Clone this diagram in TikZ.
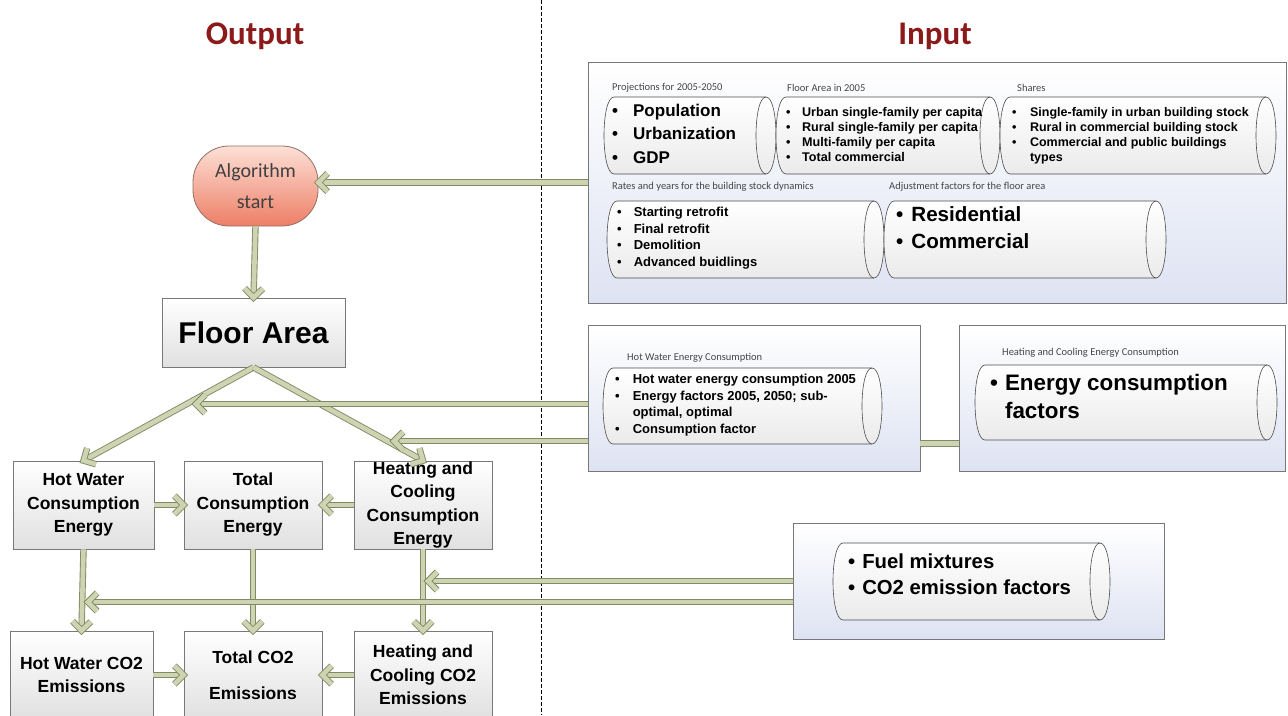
\documentclass[tikz,border=0pt]{standalone}
\usepackage{fontspec}
\setmainfont{Liberation Sans}
\newfontfamily\calfont{Carlito}
\usetikzlibrary{calc}
\definecolor{conndark}{RGB}{128,138,100}
\definecolor{connlight}{RGB}{206,212,178}
\definecolor{titlered}{RGB}{140,26,26}
\definecolor{panelbot}{RGB}{222,227,243}
\definecolor{boxline}{RGB}{120,120,120}
\definecolor{labgray}{RGB}{70,70,70}
\definecolor{salmontop}{RGB}{252,224,214}
\definecolor{salmonbot}{RGB}{238,126,102}
\definecolor{salmonline}{RGB}{150,110,100}
\newcommand{\fs}[2]{\fontsize{#1}{#2}\selectfont}
\newcommand{\drawcyl}[5]{%
  \draw[cylstyle] ({#1+#5},#2) -- ({#3-#5},#2) .. controls ({#3+#5/3},#2) and ({#3+#5/3},#4) .. ({#3-#5},#4) -- ({#1+#5},#4) .. controls ({#1-#5/3},#4) and ({#1-#5/3},#2) .. ({#1+#5},#2) -- cycle;
  \draw[cylline] ({#3-#5},#2) .. controls ({#3-7*#5/3},#2) and ({#3-7*#5/3},#4) .. ({#3-#5},#4);
}
\newcommand{\conar}[2]{%
  \draw[conn, shorten >=3pt] (#1) -- (#2);
  \draw[conn, line join=miter] ($(#2)!13pt!45:(#1)$) -- (#2) -- ($(#2)!13pt!-45:(#1)$);
}
\tikzset{
  conn/.style={draw=conndark, line width=0.9pt, double=connlight, double distance=4.6pt},
  panel/.style={draw=boxline, line width=0.8pt, top color=white, bottom color=panelbot, inner sep=0pt},
  cylstyle/.style={draw=black!70, line width=0.6pt, top color=white, bottom color=black!8},
  cylline/.style={draw=black!70, line width=0.6pt},
  box/.style={draw=boxline, line width=0.8pt, top color=white, bottom color=black!12, inner sep=0pt, align=center, font=\fs{17.5}{23.5}\bfseries},
  title/.style={text=titlered, font=\calfont\bfseries\fs{33}{36}},
  lab/.style={anchor=west, inner sep=0pt, text=labgray, font=\calfont\fs{10.5}{12}},
  lst/.style={anchor=base west, inner sep=0pt}
}
\begin{document}
\begin{tikzpicture}[x=1pt,y=-1pt]
\useasboundingbox (0,0) rectangle (1288,715);
\clip (0,0) rectangle (1288,715);
\fill[white] (0,0) rectangle (1288,715);

% titles
\node[title] (outt) at (255,36) {Output};
\node[title] (intt) at (935,36) {Input};

% divider
\draw[black, line width=0.7pt, dash pattern=on 4pt off 2pt] (541,0) -- (541,715);

% input panels
\node[panel, minimum width=698pt, minimum height=241pt] (p1) at (937,182.5) {};
\node[panel, minimum width=332pt, minimum height=146pt] (p2) at (754,398) {};
\node[panel, minimum width=326pt, minimum height=146pt] (p3) at (1122,398) {};
\node[panel, minimum width=371pt, minimum height=116pt] (p4) at (978.5,581) {};

% cylinders
\drawcyl{604}{97}{776}{174}{10}
\drawcyl{776}{97}{1000}{174}{10}
\drawcyl{1000}{97}{1276}{174}{10}
\drawcyl{607}{201}{884}{278}{10}
\drawcyl{884}{201}{1166}{278}{10}
\drawcyl{603}{368}{882}{444}{10}
\drawcyl{975}{365}{1277}{440}{10}
\drawcyl{833}{543}{1110}{620}{10}

% labels
\node[lab] (l1) at (612,88) {Projections for 2005-2050};
\node[lab] (l2) at (787,88) {Floor Area in 2005};
\node[lab] (l3) at (1017,88) {Shares};
\node[lab] (l4) at (612,187) {Rates and years for the building stock dynamics};
\node[lab] (l5) at (889,187) {Adjustment factors for the floor area};
\node[lab] (l6) at (627,358) {Hot Water Energy Consumption};
\node[lab] (l7) at (1002,353) {Heating and Cooling Energy Consumption};

% lists
\node[lst] (t1) at (612,116) {\fs{17}{23.5}\bfseries\begin{tabular}[t]{@{}l@{\hspace{15pt}}l@{}}\textbullet&Population\\\textbullet&Urbanization\\\textbullet&GDP\end{tabular}};
\node[lst] (t2) at (786,116.5) {\fs{12.6}{15}\bfseries\begin{tabular}[t]{@{}l@{\hspace{11.5pt}}l@{}}\textbullet&Urban single-family per capita\\\textbullet&Rural single-family per capita\\\textbullet&Multi-family per capita\\\textbullet&Total commercial\end{tabular}};
\node[lst] (t3) at (1012,116.5) {\fs{12.5}{15}\bfseries\begin{tabular}[t]{@{}l@{\hspace{13.5pt}}l@{}}\textbullet&Single-family in urban building stock\\\textbullet&Rural in commercial building stock\\\textbullet&Commercial and public buildings\\&types\end{tabular}};
\node[lst] (t4) at (617,216.5) {\fs{13}{16.7}\bfseries\begin{tabular}[t]{@{}l@{\hspace{12pt}}l@{}}\textbullet&Starting retrofit\\\textbullet&Final retrofit\\\textbullet&Demolition\\\textbullet&Advanced buidlings\end{tabular}};
\node[lst] (t5) at (896,221.5) {\fs{20.6}{27}\bfseries\begin{tabular}[t]{@{}l@{\hspace{8pt}}l@{}}\textbullet&Residential\\\textbullet&Commercial\end{tabular}};
\node[lst] (t6) at (615,383.5) {\fs{13}{16.7}\bfseries\begin{tabular}[t]{@{}l@{\hspace{13pt}}l@{}}\textbullet&Hot water energy consumption 2005\\\textbullet&Energy factors 2005, 2050; sub-\\&optimal, optimal\\\textbullet&Consumption factor\end{tabular}};
\node[lst] (t7) at (990,390) {\fs{22.4}{28}\bfseries\begin{tabular}[t]{@{}l@{\hspace{7pt}}l@{}}\textbullet&Energy consumption\\&factors\end{tabular}};
\node[lst] (t8) at (848,568) {\fs{20.3}{26}\bfseries\begin{tabular}[t]{@{}l@{\hspace{7pt}}l@{}}\textbullet&Fuel mixtures\\\textbullet&CO2 emission factors\end{tabular}};

% output side
\node[draw=salmonline, line width=0.8pt, rounded corners=36pt, top color=salmontop, bottom color=salmonbot, minimum width=125pt, minimum height=80pt, inner sep=0pt, align=center, text=black!75, font=\calfont\fs{20}{31}] (alg) at (255.5,186) {Algorithm\\start};
\node[box, minimum width=183pt, minimum height=69pt, font=\fs{30}{32}\bfseries] (fa) at (253.5,332.5) {Floor Area};
\node[box, minimum width=141pt, minimum height=88pt] (hwc) at (83.5,505) {Hot Water\\Consumption\\Energy};
\node[box, minimum width=138pt, minimum height=88pt] (tce) at (253,505) {Total\\Consumption\\Energy};
\node[box, minimum width=138pt, minimum height=88pt] (hcc) at (423,505) {Heating and\\Cooling\\Consumption\\Energy};
\node[box, minimum width=143pt, minimum height=88pt] (hwco) at (81.5,675) {Hot Water CO2\\Emissions};
\node[box, minimum width=138pt, minimum height=88pt] (tco) at (253,675) {Total CO2\\[12pt]Emissions};
\node[box, minimum width=138pt, minimum height=88pt] (hcco) at (423,675) {Heating and\\Cooling CO2\\Emissions};

% helper coordinates for arrows ending on lines
\coordinate (e1) at (196,404);
\coordinate (e2) at (394,441);
\coordinate (e3) at (428,581);
\coordinate (e4) at (88,602);
\coordinate (k1) at ($(p2.south east)+(0,-28)$);

% connectors
\conar{p1.west}{p1.west -| alg.east}
\conar{alg.south}{fa.north}
\conar{fa.south}{hwc.north}
\conar{fa.south}{hcc.north}
\conar{p2.west |- e1}{e1}
\conar{p2.west |- e2}{e2}
\conar{hwc.east}{tce.west}
\conar{hcc.west}{tce.east}
\conar{hwc.south}{hwco.north}
\conar{tce.south}{tco.north}
\conar{hcc.south}{hcco.north}
\conar{p4.west}{e3}
\conar{p4.west |- e4}{e4}
\conar{hwco.east}{tco.west}
\conar{hcco.west}{tco.east}
\draw[conn] (k1) -- (k1 -| p3.west);
\end{tikzpicture}
\end{document}
